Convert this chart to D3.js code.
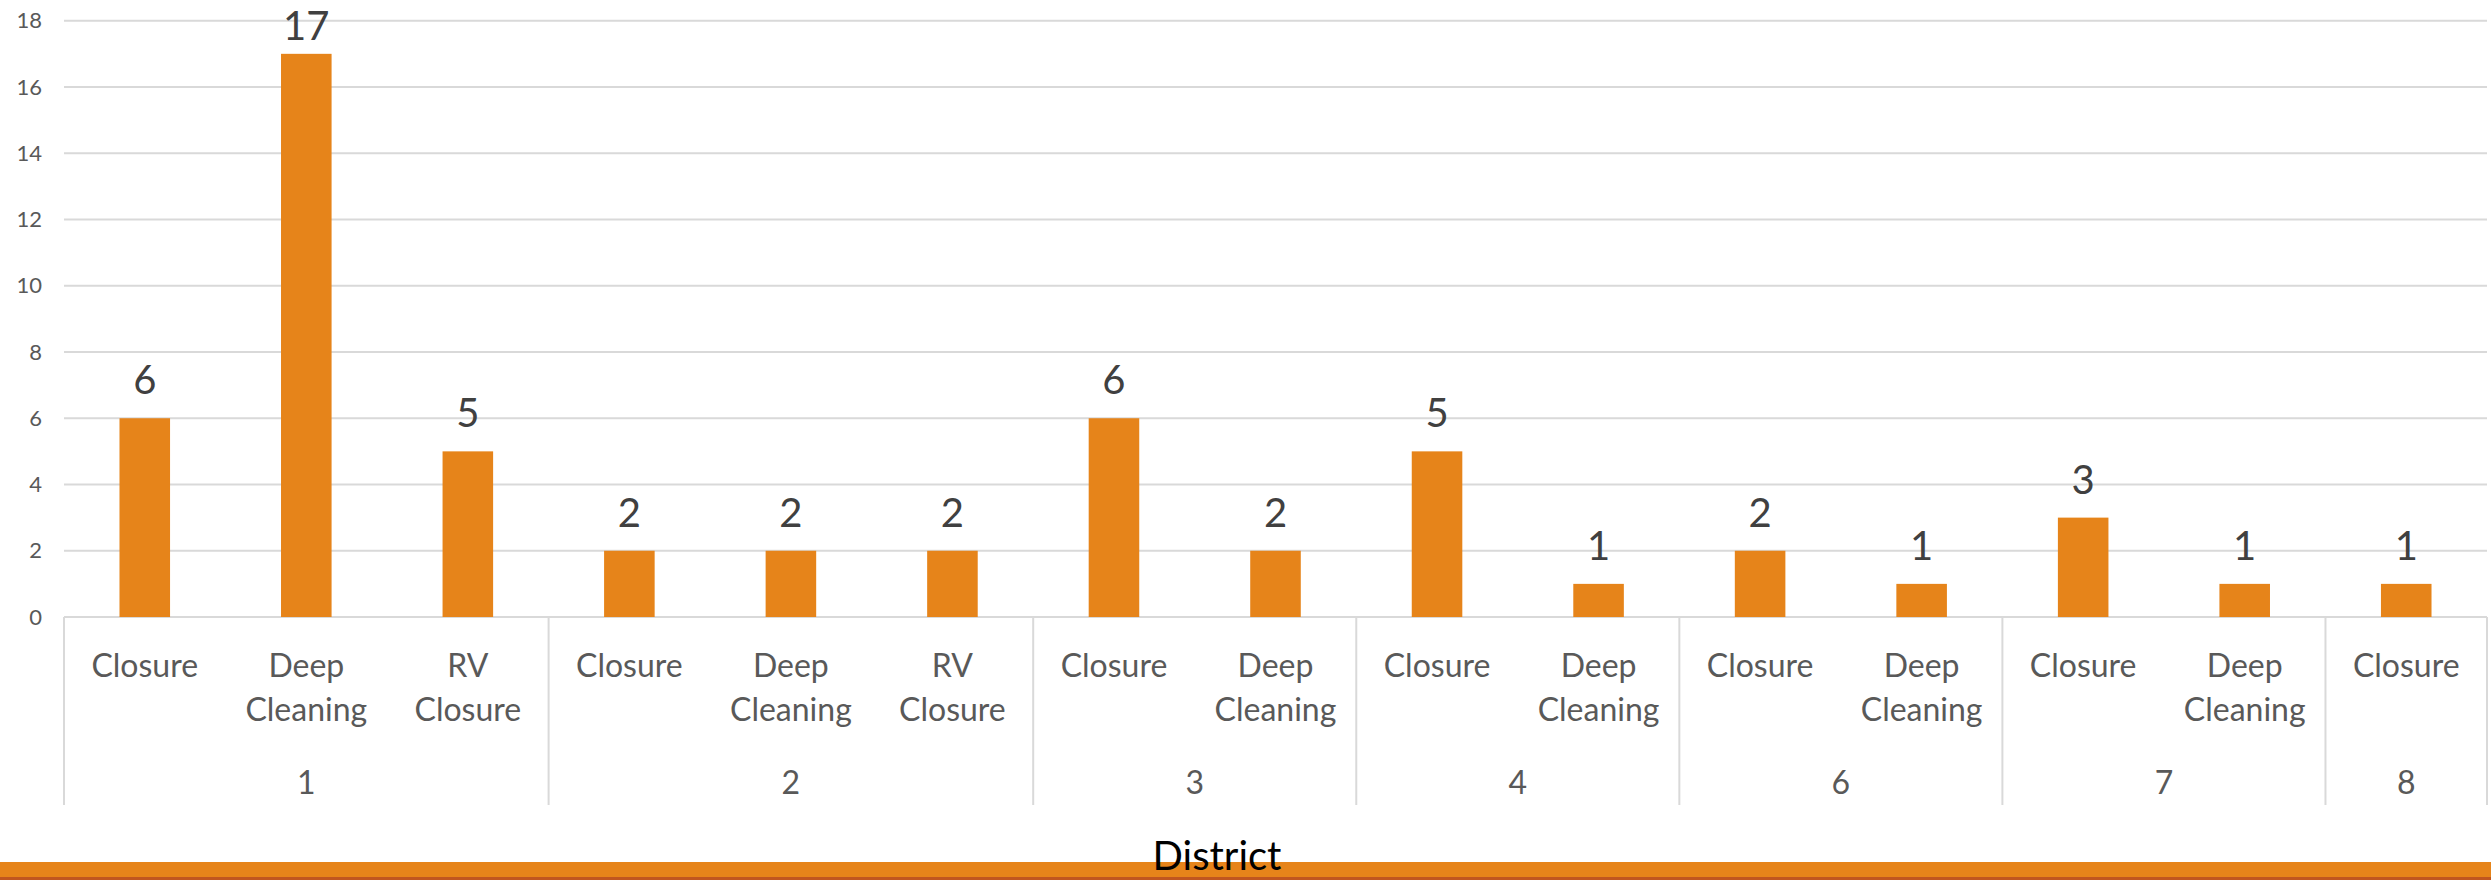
<!DOCTYPE html>
<html><head><meta charset="utf-8">
<script src="https://cdn.jsdelivr.net/npm/d3@7"></script>
<style>html,body{margin:0;padding:0;background:#fff;overflow:hidden}</style>
</head><body>
<svg id="c" width="2491" height="880"></svg>
<script>
const districts = ["1","1","1","2","2","2","3","3","4","4","6","6","7","7","8"];
const categories = ["Closure","Deep Cleaning","RV Closure","Closure","Deep Cleaning","RV Closure","Closure","Deep Cleaning","Closure","Deep Cleaning","Closure","Deep Cleaning","Closure","Deep Cleaning","Closure"];
const values = [6,17,5,2,2,2,6,2,5,1,2,1,3,1,1];
const yTicks = [0,2,4,6,8,10,12,14,16,18];
const axisTitle = "District";

(function(){
const svg = d3.select("#c");
const font = "Lato, 'Open Sans', sans-serif";
const pLeft = 64, pRight = 2487, pTop = 20.7, pBase = 617;
const idx = d3.range(values.length);
const x = d3.scaleBand().domain(idx).range([pLeft, pRight]).paddingInner(0.687).paddingOuter(0.3435);
const y = d3.scaleLinear().domain([0,18]).range([pBase, pTop]);
const grid = "#d9d9d9";

// gridlines
svg.append("g").selectAll("line").data(yTicks).join("line")
  .attr("x1", pLeft).attr("x2", pRight)
  .attr("y1", d => y(d)).attr("y2", d => y(d))
  .attr("stroke", grid).attr("stroke-width", 2);

// y axis labels
const ya = svg.append("g").attr("transform", `translate(${pLeft},0)`)
  .call(d3.axisLeft(y).tickValues(yTicks).tickSize(0).tickPadding(22));
ya.select(".domain").remove();
ya.selectAll("text").attr("font-family", font).attr("font-size", 22).attr("fill", "#595959");

// bars
svg.append("g").selectAll("rect").data(idx).join("rect")
  .attr("x", i => x(i)).attr("width", x.bandwidth())
  .attr("y", i => y(values[i])).attr("height", i => y(0) - y(values[i]))
  .attr("fill", "#E6841A");

// data labels (kept inside the chart area at the top)
svg.append("g").selectAll("text").data(idx).join("text")
  .attr("x", i => x(i) + x.bandwidth()/2).attr("y", i => Math.max(y(values[i]) - 24, 40))
  .attr("text-anchor", "middle").attr("font-family", font).attr("font-size", 40)
  .attr("fill", "#404040").text(i => values[i]);

// category labels
const step = x.step();
svg.append("g").selectAll("text").data(idx).join("text")
  .attr("text-anchor", "middle").attr("font-family", font).attr("font-size", 32)
  .attr("fill", "#595959")
  .each(function(i){
    const words = categories[i].split(" ");
    const t = d3.select(this);
    const cx = x(i) + x.bandwidth()/2;
    words.forEach((w, k) => {
      t.append("tspan").attr("x", cx).attr("y", 677 + k*44).text(w);
    });
  });

// group separators
const bounds = [0];
for (let i = 1; i < districts.length; i++) if (districts[i] !== districts[i-1]) bounds.push(i);
bounds.push(districts.length);
const sepX = b => pLeft + b * step;
svg.append("g").selectAll("line").data(bounds).join("line")
  .attr("x1", b => sepX(b)).attr("x2", b => sepX(b))
  .attr("y1", pBase).attr("y2", 805)
  .attr("stroke", grid).attr("stroke-width", 2);

// group labels
const groups = [];
for (let k = 0; k < bounds.length - 1; k++) groups.push([bounds[k], bounds[k+1]]);
svg.append("g").selectAll("text").data(groups).join("text")
  .attr("x", g => (sepX(g[0]) + sepX(g[1]))/2).attr("y", 794)
  .attr("text-anchor", "middle").attr("font-family", font).attr("font-size", 32)
  .attr("fill", "#595959").text(g => districts[g[0]]);

// bottom band
svg.append("rect").attr("x", 0).attr("y", 862).attr("width", 2491).attr("height", 15).attr("fill", "#E6841A");
svg.append("rect").attr("x", 0).attr("y", 877).attr("width", 2491).attr("height", 3).attr("fill", "#C0561F");

// axis title
svg.append("text").attr("x", 1217).attr("y", 870).attr("text-anchor", "middle")
  .attr("font-family", font).attr("font-size", 40).attr("fill", "#000").text(axisTitle);
})();
</script>
</body></html>
